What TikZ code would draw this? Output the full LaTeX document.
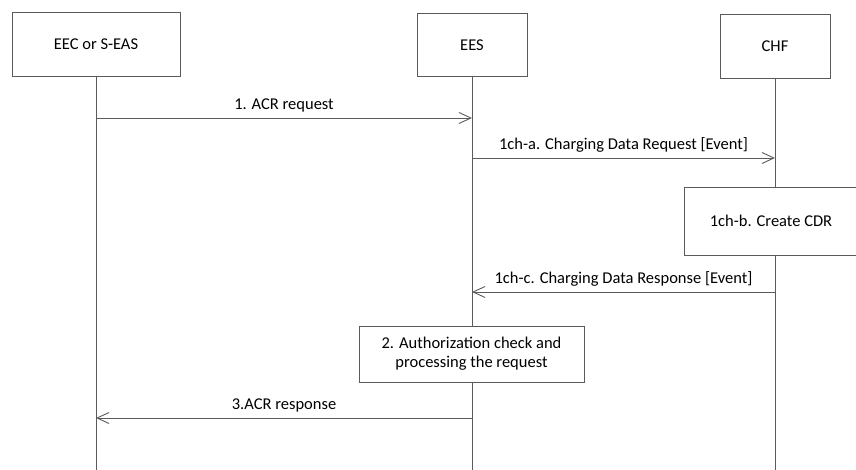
\documentclass[tikz,border=0pt]{standalone}
\usepackage{fontspec}
\setmainfont{Carlito}
\usepackage{tikz}
\usetikzlibrary{calc}
\usetikzlibrary{arrows.meta, positioning}
\definecolor{lineGray}{RGB}{90,90,90}

\begin{document}
\begin{tikzpicture}[x=1pt,y=-1pt,
                    font=\fontsize{16.5}{19}\selectfont,
                    entity node/.style={rectangle,draw=lineGray,line width=0.9pt,fill=white,inner sep=0pt},
                    lifeline/.style={draw=lineGray,line width=0.9pt},
                    msg/.style={draw=lineGray,line width=0.9pt,-{Straight Barb[length=12pt,width=11pt,line width=0.9pt]}}]
\useasboundingbox (0,0) rectangle (856,470);

\node[entity node,minimum width=168pt,minimum height=64pt] (EEC) at (96,44) {EEC or S-EAS};
\node[entity node,minimum width=110pt,minimum height=63pt] (EES) at (472,45) {EES};
\node[entity node,minimum width=110pt,minimum height=64pt] (CHF) at (775,46) {CHF};

\coordinate (EECEnd) at (EEC |- 0,470);
\coordinate (EESEnd) at (EES |- 0,470);
\coordinate (CHFEnd) at (CHF |- 0,470);

\draw[lifeline] (EEC.south)--(EECEnd);
\draw[lifeline] (EES.south)--(EESEnd);
\draw[lifeline] (CHF.south)--(CHFEnd);

% steps on the lifelines
\node[entity node,minimum width=174pt,minimum height=68pt] (CreateCDR) at (771,221) {1ch-b. Create CDR};
\node[entity node,minimum width=225pt,minimum height=56pt,align=center] (AuthCheck) at (471.5,354)
     {2. Authorization check and\\processing the request};

\foreach \y/\from/\to/\name in {118/EEC/EES/Req, 158/EES/CHF/ChReq, 292/CHF/EES/ChRsp, 418/EES/EEC/Rsp}
{\coordinate (\name Start) at (\from |- 0,\y);
 \coordinate (\name End) at (\to |- 0,\y);}

\draw[msg] (ReqStart)--(ReqEnd) node[midway,above=2pt] {1. ACR request};
\draw[msg] (ChReqStart)--(ChReqEnd) node[midway,above=2pt] {1ch-a. Charging Data Request [Event]};
\draw[msg] (ChRspStart)--(ChRspEnd) node[midway,above=2pt] {1ch-c. Charging Data Response [Event]};
\draw[msg] (RspStart)--(RspEnd) node[midway,above=2pt] {3.ACR response};
\end{tikzpicture}
\end{document}
